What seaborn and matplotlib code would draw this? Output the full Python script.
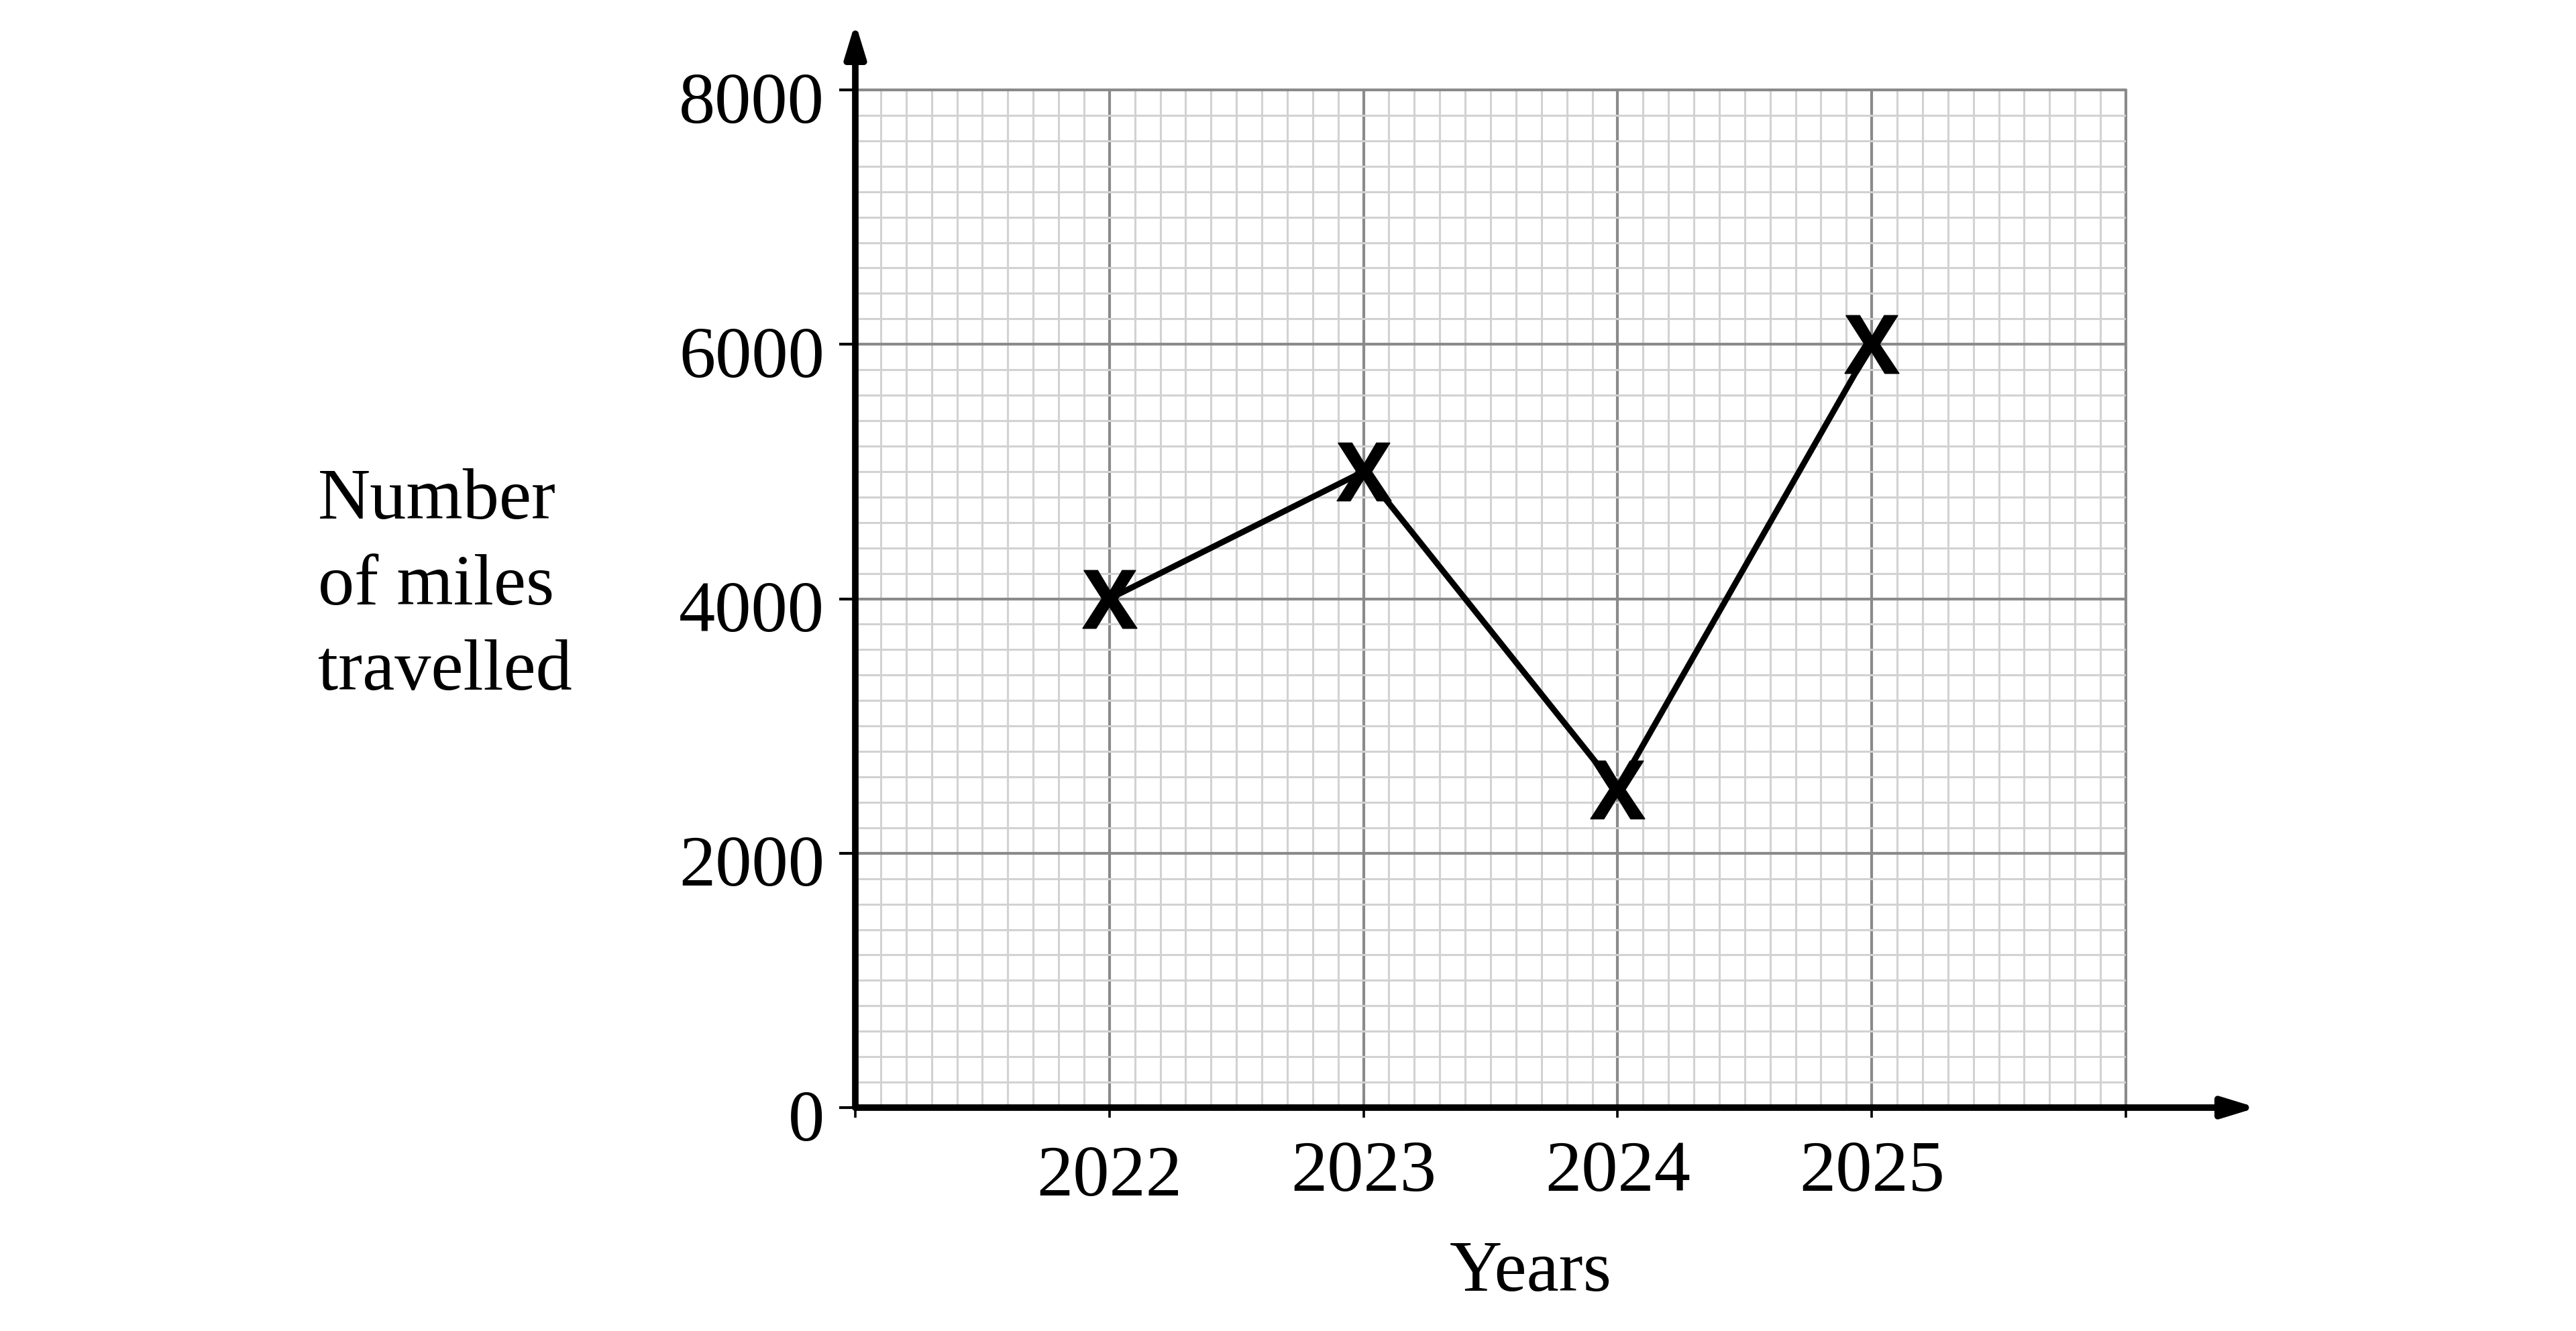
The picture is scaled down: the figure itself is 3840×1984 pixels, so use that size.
import matplotlib
matplotlib.use("Agg")
import matplotlib.pyplot as plt
import matplotlib.transforms as mtransforms
from matplotlib.ticker import MultipleLocator
import pandas as pd
import seaborn as sns

# data
years = [2022, 2023, 2024, 2025]
miles = [4000, 5000, 2500, 6000]
year_ticks = [2021, 2022, 2023, 2024, 2025, 2026]
year_labels = ["", "2022", "2023", "2024", "2025", ""]
mile_ticks = [0, 2000, 4000, 6000, 8000]

sns.set_theme(style="white")
plt.rcParams["font.family"] = ["Liberation Serif", "DejaVu Serif"]
plt.rcParams["text.color"] = "black"
plt.rcParams["xtick.color"] = "black"
plt.rcParams["ytick.color"] = "black"
plt.rcParams["mathtext.fontset"] = "custom"
plt.rcParams["mathtext.bf"] = "Open Sans:bold"

df = pd.DataFrame({"year": years, "miles": miles})

fig = plt.figure(figsize=(19.2, 9.92), dpi=200)
ax = fig.add_axes([0.33203, 0.16784, 0.49323, 0.76462])

sns.lineplot(data=df, x="year", y="miles", ax=ax, color="black", lw=3.2,
             marker=r"$\mathbf{X}$", markersize=31, mfc="black", mec="black",
             mew=0.6, zorder=5)

ax.set_xlim(2021, 2026)
ax.set_ylim(0, 8000)
ax.set_xticks(year_ticks)
ax.set_xticklabels(year_labels)
ax.set_yticks(mile_ticks)
ax.set_yticklabels([str(v) for v in mile_ticks])
ax.xaxis.set_minor_locator(MultipleLocator(0.1))
ax.yaxis.set_minor_locator(MultipleLocator(200))

# graph paper grid
ax.set_axisbelow(True)
ax.grid(which="minor", color="#d2d2d2", lw=1.1)
ax.grid(which="major", color="#8a8a8a", lw=1.5)
for t in ax.xaxis.get_major_ticks() + ax.yaxis.get_major_ticks():
    t.gridline.set_clip_on(False)

ax.tick_params(axis="x", which="major", direction="out", length=5.5,
               width=1.3, color="black", pad=12, labelsize=39,
               labelcolor="black", bottom=True)
ax.tick_params(axis="y", which="major", direction="out", length=8.6,
               width=1.5, color="black", pad=8, labelsize=39,
               labelcolor="black", left=True)
ax.tick_params(which="minor", length=0)

# 2022 label sits a little lower in the original, y labels sit slightly low too
lab = ax.get_xticklabels()[1]
lab.set_transform(lab.get_transform() +
                  mtransforms.ScaledTranslation(0, -2.5 / 72, fig.dpi_scale_trans))
for lab in ax.get_yticklabels():
    lab.set_transform(lab.get_transform() +
                      mtransforms.ScaledTranslation(0, -4 / 72, fig.dpi_scale_trans))

for s in ax.spines.values():
    s.set_visible(False)
ax.set_xlabel("")
ax.set_ylabel("")

# axes with arrow heads
arrow = dict(arrowstyle="-|>,head_length=15,head_width=4.6", mutation_scale=1,
             lw=3.5, color="black", shrinkA=0, shrinkB=0)
ax.annotate("", xy=(0, 1.066), xytext=(0, 0), xycoords="axes fraction",
            arrowprops=arrow, annotation_clip=False)
ax.annotate("", xy=(1.103, 0), xytext=(0, 0), xycoords="axes fraction",
            arrowprops=arrow, annotation_clip=False)

fig.text(0.1234, 0.648, "Number\nof miles\ntravelled", fontsize=39,
         ha="left", va="top", linespacing=1.39)
fig.text(0.5943, 0.0302, "Years", fontsize=39, ha="center", va="baseline")

fig.savefig("out.png", dpi=200, facecolor="white")
